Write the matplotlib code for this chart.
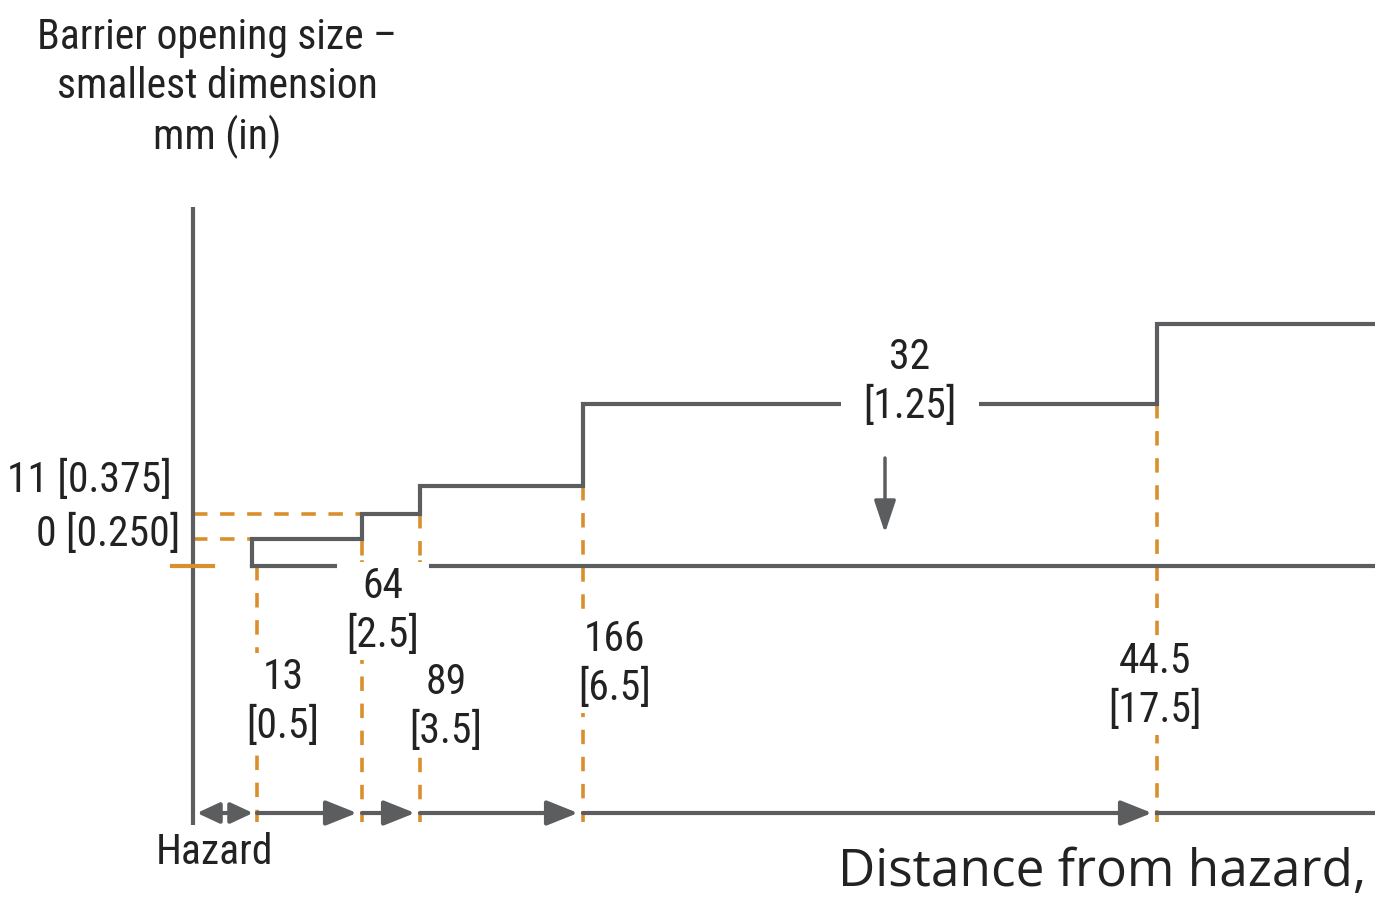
import matplotlib
matplotlib.use("Agg")
import matplotlib.pyplot as plt
from matplotlib import font_manager
from matplotlib.patches import FancyArrowPatch

# ---- data (schematic, not to scale) ----
opening_title = "Barrier opening size \u2013\nsmallest dimension\nmm (in)"
opening_labels = ["11 [0.375]", "0 [0.250]"]
top_label = "32\n[1.25]"
dist_labels = ["13\n[0.5]", "64\n[2.5]", "89\n[3.5]", "166\n[6.5]", "44.5\n[17.5]"]
hazard_label = "Hazard"
xlabel = "Distance from hazard, mm (in)"

# schematic positions of each step (diagram units) and levels
step_pos = [252, 362, 420, 583, 1157]
step_level = [539, 514, 486, 404, 324]
axis_x, base_y, arrow_y = 193, 566, 813

GRAY = "#5b5d5f"
ORANGE = "#d98f2b"

avail = {f.name for f in font_manager.fontManager.ttflist}
narrow = next((f for f in ["Liberation Sans Narrow", "Roboto Condensed", "Open Sans Condensed",
                           "Liberation Sans"] if f in avail), "DejaVu Sans")
wide = next((f for f in ["Open Sans", "Liberation Sans"] if f in avail), "DejaVu Sans")

fig = plt.figure(figsize=(13.75, 9), dpi=100)
ax = fig.add_axes([0, 0, 1, 1])
ax.set_xlim(0, 1375)
ax.set_ylim(900, 0)
ax.axis("off")

lw = 3.0
# vertical axis
ax.plot([axis_x, axis_x], [207, 825], color=GRAY, lw=lw, solid_capstyle="butt", zorder=3)
# orange tick at baseline
ax.plot([172, 213], [base_y, base_y], color=ORANGE, lw=lw, zorder=4)

# baseline
ax.plot([step_pos[0], 1375], [base_y, base_y], color=GRAY, lw=lw, zorder=2)

# step line
xs = [step_pos[0], step_pos[0]]
ys = [base_y, step_level[0]]
for i in range(1, len(step_pos)):
    xs += [step_pos[i], step_pos[i]]
    ys += [step_level[i - 1], step_level[i]]
xs.append(1375)
ys.append(step_level[-1])
ax.plot(xs, ys, color=GRAY, lw=lw, zorder=2, solid_joinstyle="miter")

# orange dashed guides
dash = dict(color=ORANGE, lw=2.6, ls=(0, (4, 3.5)), zorder=1)
ax.plot([axis_x, step_pos[1]], [step_level[1], step_level[1]], **dash)
ax.plot([axis_x, step_pos[0]], [step_level[0], step_level[0]], **dash)
tops = [base_y, step_level[1], step_level[1], step_level[2], step_level[3]]
for x, t in zip(step_pos, tops):
    xx = x + 5 if x == step_pos[0] else x
    ax.plot([xx, xx], [t, 822], **dash)

# bottom arrows
def arrow(x0, x1, style, ms=20):
    ax.add_patch(FancyArrowPatch((x0, arrow_y), (x1, arrow_y), arrowstyle=style,
                                 mutation_scale=ms, color=GRAY, lw=lw, shrinkA=0, shrinkB=0,
                                 zorder=3))

arrow(axis_x + 4, step_pos[0] + 1, "<|-|>,head_length=0.75,head_width=0.35", ms=18)
marks = [step_pos[0] + 5] + step_pos[1:]
for a, b in zip(marks[:-1], marks[1:]):
    arrow(a, b - 5, "-|>,head_length=0.95,head_width=0.38")
ax.plot([marks[-1], 1375], [arrow_y, arrow_y], color=GRAY, lw=lw, zorder=3)

txt = dict(family=narrow, fontsize=30, color="#222222", linespacing=1.25)
bg = dict(facecolor="white", edgecolor="none", pad=3)

ax.text(217, 88, opening_title, ha="center", va="center", **txt)
ax.text(172, 480, opening_labels[0], ha="right", va="center", **txt)
ax.text(180, 534, opening_labels[1], ha="right", va="center", **txt)
ax.text(910, 382, top_label, ha="center", va="center",
        bbox=dict(facecolor="white", edgecolor="none", pad=16), zorder=5, **txt)
ax.annotate("", xy=(885, 533), xytext=(885, 458),
            arrowprops=dict(arrowstyle="-|>,head_length=0.9,head_width=0.3", color=GRAY, lw=2.5,
                            mutation_scale=22, shrinkA=0, shrinkB=0))

label_pos = [(283, 702), (383, 611), (446, 707), (615, 664), (1155, 686)]
for (lx, ly), s in zip(label_pos, dist_labels):
    ax.text(lx, ly, s, ha="center", va="center", bbox=bg, zorder=5, **txt)

# gap around "64" label on the baseline
ax.plot([340, 425], [base_y, base_y], color="white", lw=lw + 2, zorder=2.5)
ax.plot([step_pos[1], step_pos[1]], [base_y - 4, base_y + 8], color=ORANGE, lw=2.6, zorder=2.6)
ax.plot([step_pos[2], step_pos[2]], [base_y - 4, base_y + 6], color=ORANGE, lw=2.6, zorder=2.6)

ax.text(215, 852, hazard_label, ha="center", va="center", **txt)
ax.text(838, 873, xlabel, ha="left", va="center", family=wide, fontsize=37, color="#222222")

fig.savefig("out.png", dpi=100, facecolor="white")
